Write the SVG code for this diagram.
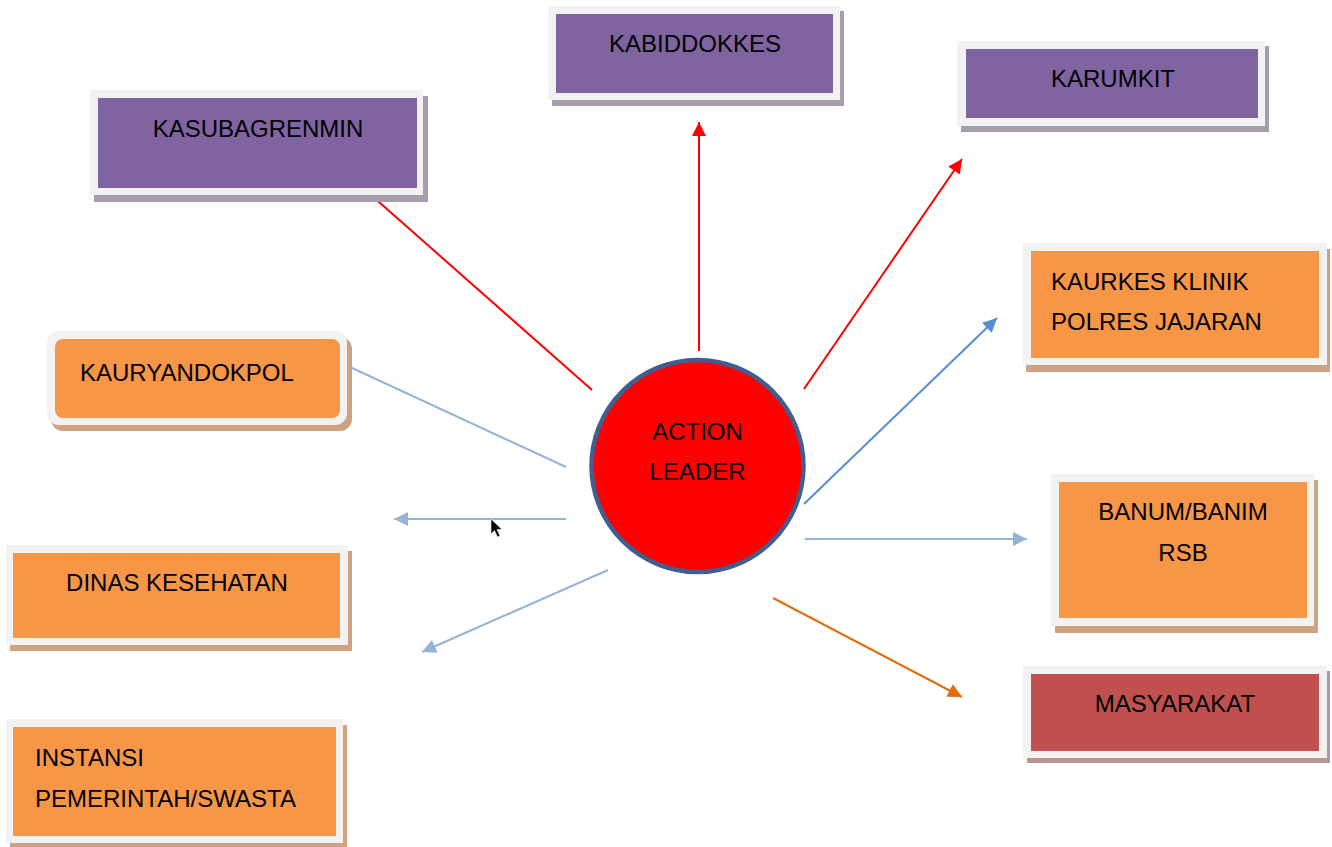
<svg xmlns="http://www.w3.org/2000/svg" width="1332" height="847" viewBox="0 0 1332 847">
<style>
.frame{fill:#f2f2f2}
.shP{fill:#a59cae}
.shO{fill:#cfa282}
.shR{fill:#b99493}
.purple{fill:#8064a2}
.orange{fill:#f79646}
.redbox{fill:#c0504d}
text{font-family:"Liberation Sans",Arial,sans-serif;font-size:24px;fill:#000}
.c{text-anchor:middle}
.ln{fill:none;stroke-width:2}
</style>
<defs>
<marker id="aRed" viewBox="0 0 10 10" refX="10" refY="5" markerWidth="16" markerHeight="14" markerUnits="userSpaceOnUse" orient="auto"><path d="M0,0 L10,5 L0,10 z" fill="#ff0000"/></marker>
<marker id="aBlue" viewBox="0 0 10 10" refX="10" refY="5" markerWidth="16" markerHeight="14" markerUnits="userSpaceOnUse" orient="auto"><path d="M0,0 L10,5 L0,10 z" fill="#558ed5"/></marker>
<marker id="aLt" viewBox="0 0 10 10" refX="10" refY="5" markerWidth="16" markerHeight="14" markerUnits="userSpaceOnUse" orient="auto"><path d="M0,0 L10,5 L0,10 z" fill="#95b3d7"/></marker>
<marker id="aOr" viewBox="0 0 10 10" refX="10" refY="5" markerWidth="16" markerHeight="14" markerUnits="userSpaceOnUse" orient="auto"><path d="M0,0 L10,5 L0,10 z" fill="#e46c0a"/></marker>
</defs>
<rect width="1332" height="847" fill="#ffffff"/>

<g id="connectors">
<line class="ln" x1="592" y1="390" x2="371" y2="195" stroke="#ff0000"/>
<line class="ln" x1="699" y1="351" x2="699" y2="122" stroke="#ff0000" marker-end="url(#aRed)"/>
<line class="ln" x1="804" y1="389" x2="962" y2="159" stroke="#ff0000" marker-end="url(#aRed)"/>
<line class="ln" x1="804" y1="504" x2="997" y2="318" stroke="#558ed5" marker-end="url(#aBlue)"/>
<line class="ln" x1="805" y1="539" x2="1027" y2="539" stroke="#95b3d7" marker-end="url(#aLt)"/>
<line class="ln" x1="773" y1="598" x2="962" y2="697" stroke="#e46c0a" marker-end="url(#aOr)"/>
<line class="ln" x1="566" y1="467" x2="350" y2="367" stroke="#95b3d7"/>
<line class="ln" x1="566" y1="519" x2="394" y2="519" stroke="#95b3d7" marker-end="url(#aLt)"/>
<line class="ln" x1="608" y1="570" x2="422" y2="652" stroke="#95b3d7" marker-end="url(#aLt)"/>
</g>

<g id="kabiddokkes">
<rect class="shP" x="552" y="11" width="292" height="95"/>
<rect class="frame" x="548" y="6" width="292" height="94"/>
<rect class="purple" x="556" y="14" width="277" height="79"/>
<text class="c" x="695" y="52">KABIDDOKKES</text>
</g>

<g id="karumkit">
<rect class="shP" x="961" y="46" width="308" height="86"/>
<rect class="frame" x="957" y="41" width="308" height="85"/>
<rect class="purple" x="966" y="49" width="292" height="69"/>
<text class="c" x="1113" y="87">KARUMKIT</text>
</g>

<g id="kasubagrenmin">
<rect class="shP" x="94" y="96" width="334" height="106"/>
<rect class="frame" x="90" y="90" width="333" height="105"/>
<rect class="purple" x="98" y="98" width="319" height="90"/>
<text class="c" x="258" y="137">KASUBAGRENMIN</text>
</g>

<g id="kauryandokpol">
<rect class="shO" x="51" y="337" width="301" height="94" rx="12"/>
<rect class="frame" x="47" y="331" width="300" height="94" rx="12"/>
<rect class="orange" x="55" y="339" width="285" height="79" rx="8"/>
<text x="80" y="381">KAURYANDOKPOL</text>
</g>

<g id="dinas-kesehatan">
<rect class="shO" x="10" y="551" width="342" height="100"/>
<rect class="frame" x="6" y="545" width="342" height="100"/>
<rect class="orange" x="13" y="553" width="327" height="85"/>
<text class="c" x="177" y="591">DINAS KESEHATAN</text>
</g>

<g id="instansi">
<rect class="shO" x="10" y="725" width="337" height="125"/>
<rect class="frame" x="6" y="719" width="337" height="124"/>
<rect class="orange" x="13" y="727" width="323" height="109"/>
<text x="35" y="766">INSTANSI</text>
<text x="35" y="807">PEMERINTAH/SWASTA</text>
</g>

<g id="kaurkes">
<rect class="shO" x="1026" y="249" width="304" height="123"/>
<rect class="frame" x="1023" y="243" width="304" height="122"/>
<rect class="orange" x="1031" y="251" width="288" height="107"/>
<text x="1051" y="290">KAURKES KLINIK</text>
<text x="1051" y="330">POLRES JAJARAN</text>
</g>

<g id="banum">
<rect class="shO" x="1055" y="480" width="263" height="153"/>
<rect class="frame" x="1051" y="474" width="263" height="152"/>
<rect class="orange" x="1059" y="482" width="248" height="136"/>
<text class="c" x="1183" y="520">BANUM/BANIM</text>
<text class="c" x="1183" y="561">RSB</text>
</g>

<g id="masyarakat">
<rect class="shR" x="1027" y="671" width="303" height="92"/>
<rect class="frame" x="1023" y="666" width="304" height="92"/>
<rect class="redbox" x="1031" y="674" width="288" height="77"/>
<text class="c" x="1175" y="712">MASYARAKAT</text>
</g>

<g id="action-leader">
<circle cx="697.5" cy="466" r="106" fill="#ff0000" stroke="#3e5f8f" stroke-width="4.5"/>
<text class="c" x="697.5" y="440">ACTION</text>
<text class="c" x="697.5" y="480">LEADER</text>
</g>

<g id="cursor">
<path d="M491,519 L491,534 L494.5,530.5 L497.5,537 L500,536 L497,529.5 L502,529.5 Z" fill="#000000" stroke="#ffffff" stroke-width="0.6"/>
</g>
</svg>
